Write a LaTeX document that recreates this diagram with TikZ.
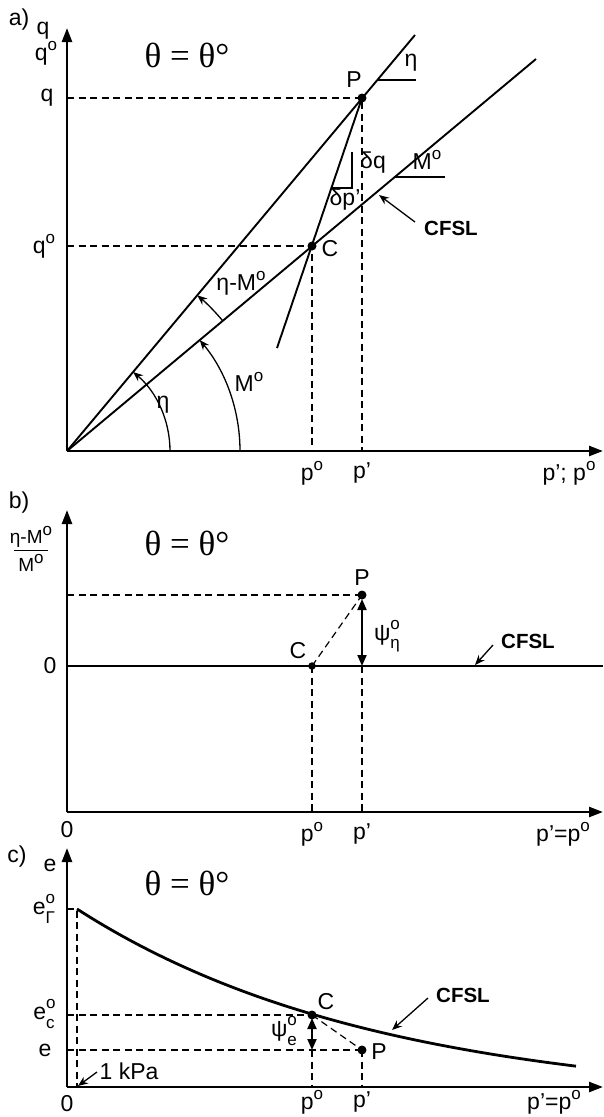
\documentclass[tikz,border=0pt]{standalone}
\usepackage{fontspec}
\setmainfont{Liberation Sans}
\newfontfamily\serifgr{Liberation Serif}
\usetikzlibrary{arrows.meta}
\newcommand\supo{\raisebox{0.8ex}{\fontsize{17}{17}\selectfont o}}
\newcommand\subsup[2]{\makebox[0pt][l]{\raisebox{0.9ex}{\fontsize{17}{17}\selectfont #2}}\raisebox{-0.7ex}{\fontsize{17}{17}\selectfont #1}}
\begin{document}
\begin{tikzpicture}[x=1pt,y=-1pt,
  axis/.style={line width=2.4pt,-{Triangle[length=14pt,width=10pt]}},
  ln/.style={line width=1.9pt},
  thn/.style={line width=1.3pt},
  dsh/.style={line width=1.2pt,dash pattern=on 7pt off 4.5pt},
  lbl/.style={font=\fontsize{23}{26}\selectfont,inner sep=1pt},
  sml/.style={font=\fontsize{19}{22}\selectfont,inner sep=1pt},
  bld/.style={font=\fontsize{20.5}{24}\selectfont\bfseries,inner sep=1pt},
  ttl/.style={font=\fontsize{35}{38}\selectfont\serifgr,inner sep=1pt},
  dot/.style={circle,fill=black,inner sep=0pt,minimum size=9pt},
  arr/.style={line width=1.3pt,-{Stealth[length=10pt,width=8pt]}},
  darr/.style={line width=2pt,{Triangle[length=11pt,width=9pt]}-{Triangle[length=11pt,width=9pt]}},
]
\useasboundingbox (0,0) rectangle (603,1117);

% ================= panel a =================
\coordinate (Oa) at (67,451);
\coordinate (Ya) at (67,28);
\coordinate (Xa) at (603,451);
\node[dot] (Pa) at (362,98) {};
\node[dot] (Ca) at (312,246) {};
\coordinate (qa) at (67,98);
\coordinate (qoa) at (67,246);
\coordinate (ppa) at (362,451);
\coordinate (poa) at (312,451);
\coordinate (Etop) at (415,35);
\coordinate (Mtop) at (536,59);
\coordinate (Sbot) at (277,348);

\draw[dsh] (qa) -- (Pa.center) -- (ppa);
\draw[dsh] (qoa) -- (Ca.center) -- (poa);
\draw[ln] (Oa) -- (Etop);
\draw[ln] (Oa) -- (Mtop);
\draw[ln] (Pa.center) -- (Sbot);
\draw[axis] (Oa) -- (Ya);
\draw[axis] (Oa) -- (Xa);

\coordinate (te1) at (377,80); \coordinate (te2) at (416,80);
\draw[thn] (te1) -- (te2);
\coordinate (tm1) at (394,177); \coordinate (tm2) at (445,177);
\draw[thn] (tm1) -- (tm2);
\coordinate (d1) at (352,152); \coordinate (d2) at (352,188); \coordinate (d3) at (332,188);
\draw[thn] (d1) -- (d2) -- (d3);

\coordinate (ae0) at (170,451);
\coordinate (am0a) at (240,451);
\draw[arr] (ae0) arc[start angle=0,end angle=-50.1,radius=103];
\draw[arr] (am0a) arc[start angle=0,end angle=-39.9,radius=173];
\coordinate (am0) at ({67+203*cos(39.9)},{451-203*sin(39.9)});
\draw[arr] (am0) arc[start angle=-39.9,end angle=-50.1,radius=203];

\coordinate (cfa1) at (415,222); \coordinate (cfa2) at (379,195);
\draw[arr] (cfa1) -- (cfa2);

\node[lbl] (la) at (19,20) {a)};
\node[lbl] (lq1) at (43,31) {q};
\node[lbl] (lq2) at (46,53) {q\supo};
\node[lbl] (lq3) at (47,98) {q};
\node[lbl] (lq4) at (44,246) {q\supo};
\node[ttl] (ta) at (187,55) {θ = θ°};
\node[lbl] (lPa) at (354,80) {P};
\node[lbl] (lCa) at (330,249) {C};
\node[lbl] (leta) at (411,63) {η};
\node[lbl] (lMo) at (427,160) {M\supo};
\node[lbl] (ldq) at (373,163) {δq};
\node[lbl] (ldp) at (345,200) {δp’};
\node[bld] (lcf) at (451,228) {CFSL};
\node[lbl] (leta2) at (163,405) {η};
\node[lbl] (lMo2) at (249,382) {M\supo};
\node[lbl] (letaM) at (241,283) {η-M\supo};
\node[lbl] (lpo) at (312,473) {p\supo};
\node[lbl] (lpp) at (362,473) {p’};
\node[lbl] (lpx) at (569,473) {p’; p\supo};

% ================= panel b =================
\coordinate (Ob) at (67,812);
\coordinate (Yb) at (67,510);
\coordinate (Xb) at (603,812);
\node[dot] (Pb) at (362,595) {};
\node[dot,minimum size=7.5pt] (Cb) at (312,666) {};
\coordinate (qb) at (67,595);
\coordinate (L0) at (67,666);
\coordinate (L1) at (603,666);
\coordinate (Lp) at (362,666);
\coordinate (Pbt) at (362,599);
\coordinate (ppb) at (362,812);
\coordinate (pob) at (312,812);

\draw[dsh] (qb) -- (Pb.center);
\draw[dsh] (Cb.center) -- (Pb.center);
\draw[dsh] (Cb.center) -- (pob);
\draw[dsh] (Lp) -- (ppb);
\draw[ln] (L0) -- (L1);
\draw[darr] (Pbt) -- (Lp);
\draw[axis] (Ob) -- (Yb);
\draw[axis] (Ob) -- (Xb);
\coordinate (cfb1) at (493,645); \coordinate (cfb2) at (475,665);
\draw[arr] (cfb1) -- (cfb2);

\node[lbl] (lb) at (19,503) {b)};
\node[sml] (fnum) at (31,537) {η-M\supo};
\coordinate (fr1) at (14,550); \coordinate (fr2) at (48,550);
\draw[line width=1pt] (fr1) -- (fr2);
\node[sml] (fden) at (31,563) {M\supo};
\node[ttl] (tb) at (187,543) {θ = θ°};
\node[lbl] (l0b) at (50,666) {0};
\node[lbl] (lPb) at (362,578) {P};
\node[lbl] (lCb) at (298,651) {C};
\node[lbl] (lpsi) at (387,636) {ψ\subsup{η}{o}};
\node[bld] (lcfb) at (528,641) {CFSL};
\node[lbl] (l0bx) at (67,830) {0};
\node[lbl] (lpob) at (312,834) {p\supo};
\node[lbl] (lppb) at (362,834) {p’};
\node[lbl] (lpxb) at (563,834) {p’=p\supo};

% ================= panel c =================
\coordinate (Oc) at (67,1087);
\coordinate (Yc) at (67,848);
\coordinate (Xc) at (603,1087);
\node[dot] (Cc) at (312,1015) {};
\node[dot] (Pc) at (362,1050) {};
\coordinate (cs) at (77,909);
\coordinate (eg) at (67,909);
\coordinate (egb) at (77,1087);
\coordinate (ec) at (67,1015);
\coordinate (ee) at (67,1050);
\coordinate (Ce) at (312,1050);
\coordinate (Cct) at (312,1018);
\coordinate (poc) at (312,1087);
\coordinate (ppc) at (362,1087);

\draw[dsh] (eg) -- (cs) -- (egb);
\draw[dsh] (ec) -- (Cc.center);
\draw[dsh] (ee) -- (Pc.center);
\draw[dsh] (Cc.center) -- (Pc.center);
\draw[dsh] (Ce) -- (poc);
\draw[dsh] (Pc.center) -- (ppc);
\draw[line width=2.8pt] plot[domain=77:576,samples=80,smooth] (\x,{1103.4-194.4*exp(-0.003304*(\x-77))});
\draw[darr] (Cct) -- (Ce);
\draw[axis] (Oc) -- (Yc);
\draw[axis] (Oc) -- (Xc);
\coordinate (cfc1) at (428,998); \coordinate (cfc2) at (392,1030);
\draw[arr] (cfc1) -- (cfc2);
\coordinate (kp1) at (97,1072); \coordinate (kp2) at (78,1086);
\draw[arr] (kp1) -- (kp2);

\node[lbl] (lc) at (17,857) {c)};
\node[lbl] (le1) at (50,865) {e};
\node[ttl] (tc) at (187,883) {θ = θ°};
\node[lbl] (leg) at (44,909) {e\subsup{Γ}{o}};
\node[lbl] (lec) at (44,1014) {e\subsup{c}{o}};
\node[lbl] (le2) at (45,1050) {e};
\node[lbl] (lCc) at (326,1002) {C};
\node[lbl] (lPc) at (379,1052) {P};
\node[lbl] (lpsie) at (284,1031) {ψ\subsup{e}{o}};
\node[bld] (lcfc) at (463,995) {CFSL};
\node[lbl] (lkpa) at (129,1071) {1 kPa};
\node[lbl] (l0c) at (67,1104) {0};
\node[lbl] (lpoc) at (312,1102) {p\supo};
\node[lbl] (lppc) at (362,1102) {p’};
\node[lbl] (lpxc) at (554,1102) {p’=p\supo};
\end{tikzpicture}
\end{document}
